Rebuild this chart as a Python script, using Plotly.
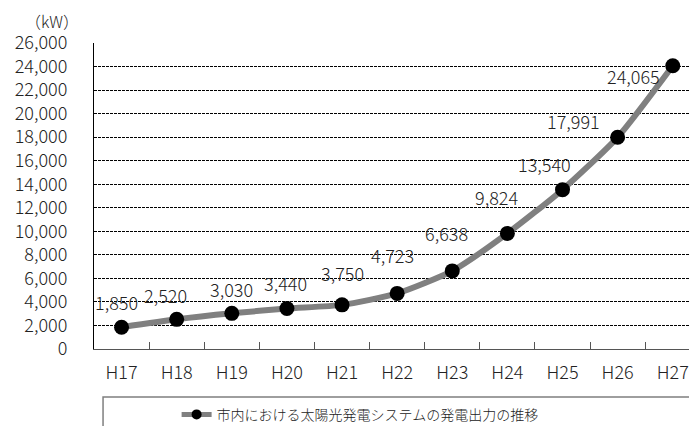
import plotly.graph_objects as go

# 年度と発電出力 (kW)
years = ["H17", "H18", "H19", "H20", "H21", "H22", "H23", "H24", "H25", "H26", "H27"]
output_kw = [1850, 2520, 3030, 3440, 3750, 4723, 6638, 9824, 13540, 17991, 24065]
series_name = "市内における太陽光発電システムの発電出力の推移"

# label offsets (px) relative to each point
label_dx = [-5, -11, 0, -1, 0, -5, -6, -11, -18, -44, -39]
label_dy = [25, 24, 24, 26, 32, 38, 38, 36, 26, 16, -10]

font_family = "Noto Sans CJK JP"
text_color = "#222222"
base_font = dict(family=font_family, size=18, color=text_color, weight=300)

fig = go.Figure()
fig.add_trace(go.Scatter(
    x=years,
    y=output_kw,
    mode="lines+markers",
    name=series_name,
    showlegend=False,
    line=dict(color="#808080", width=6, shape="spline", smoothing=0.6),
    marker=dict(color="black", size=15),
))
# legend-only entry with a smaller symbol
fig.add_trace(go.Scatter(
    x=[None], y=[None],
    mode="lines+markers",
    name=series_name,
    line=dict(color="#808080", width=5),
    marker=dict(color="black", size=10),
))

for yr, val, dx, dy in zip(years, output_kw, label_dx, label_dy):
    fig.add_annotation(
        x=yr, y=val, text=f"{val:,}", showarrow=False,
        xshift=dx, yshift=dy, font=base_font,
    )

fig.add_annotation(
    xref="paper", yref="paper", x=-0.07, y=1.072,
    text="（kW）", showarrow=False, xanchor="center", yanchor="middle",
    font=dict(family=font_family, size=16, color=text_color, weight=300),
)

# legend frame
fig.add_shape(
    type="rect", xref="paper", yref="paper",
    x0=0.015, x1=1.05, y0=-0.4, y1=-0.157,
    line=dict(color="#7f7f7f", width=1.5), fillcolor="white", layer="below",
)

fig.update_xaxes(
    type="category",
    range=[-0.5, 10.44],
    automargin=False,
    showline=True, linecolor="#555555", linewidth=1,
    showgrid=False,
    ticks="inside", tickson="boundaries", ticklen=7, tickcolor="#555555",
    ticklabelstandoff=7,
    tickfont=base_font,
)
fig.update_yaxes(
    range=[0, 26000],
    dtick=2000,
    tickformat=",",
    automargin=False,
    showline=True, linecolor="black", linewidth=1,
    showgrid=True, gridcolor="black", gridwidth=1, griddash="3px,1px",
    zeroline=False,
    ticks="", ticklabelstandoff=22,
    tickfont=base_font,
)

# the page body adds an 8px offset, so the figure is sized/margined to compensate
fig.update_layout(
    width=689, height=418,
    margin=dict(l=86, r=0, t=35, b=77, autoexpand=False),
    plot_bgcolor="white", paper_bgcolor="white",
    showlegend=True,
    legend=dict(
        orientation="h", x=0.137, xanchor="left", y=-0.215, yanchor="middle",
        bgcolor="rgba(0,0,0,0)",
        font=dict(family=font_family, size=14, color=text_color, weight=300),
    ),
)

fig.write_html("out.html")
